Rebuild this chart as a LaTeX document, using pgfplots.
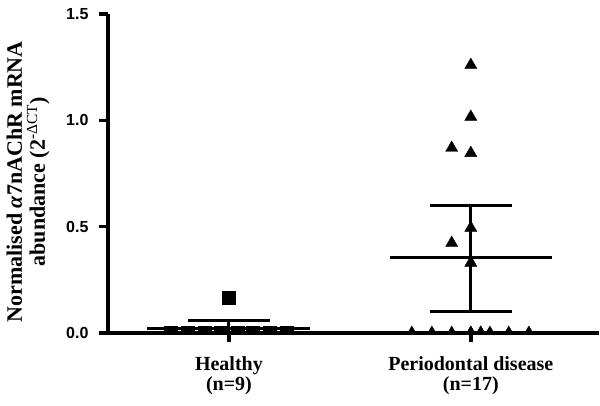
\documentclass[border=0pt]{standalone}
\usepackage{fontspec}
\setmainfont{Liberation Serif}
\newfontfamily\arialfont{Liberation Sans}
\usepackage{pgfplots}
\usepackage{pgfplotstable}
\pgfplotsset{compat=1.18}

\pgfplotstableread{
x y
0.76 0.002
0.83 0.0
0.90 0.002
0.965 0.0
1.035 0.003
1.10 0.0
1.17 0.002
1.24 0.002
1.00 0.165
}\healthy

\pgfplotstableread{
x y
2.00 1.26
2.00 1.016
1.921 0.87
2.00 0.846
2.00 0.494
1.921 0.423
2.00 0.33
1.756 0.0
1.839 0.0
1.921 0.0
2.00 0.0
2.041 0.0
2.079 0.0
2.157 0.0
2.24 0.0
2.00 0.0
2.041 0.0
}\perio

\begin{document}
\begin{tikzpicture}
\begin{axis}[
  name=ax,
  scale only axis,
  width=491pt, height=319pt,
  xmin=0.5, xmax=2.53,
  ymin=0, ymax=1.5,
  axis x line=bottom, axis y line=left,
  axis line style={-, line width=3.5pt},
  axis on top,
  clip marker paths=true,
  tick align=outside,
  major tick length=9pt,
  every tick/.style={black, line width=3.5pt},
  xtick={1,2},
  xticklabels={{Healthy\\(n=9)},{Periodontal disease\\(n=17)}},
  xticklabel style={align=center, font=\bfseries\fontsize{20}{20}\selectfont, yshift=-11pt},
  ytick={0,0.5,1,1.5},
  /pgf/number format/assume math mode=true,
  /pgf/number format/.cd, fixed, fixed zerofill, precision=1, /pgfplots/.cd,
  yticklabel style={font=\arialfont\bfseries\fontsize{16}{16}\selectfont, xshift=-7pt},
  ylabel={Normalised {\itshape α}7nAChR mRNA\\abundance (2\textsuperscript{\mdseries -ΔCT})},
  ylabel style={align=center, font=\bfseries\fontsize{22}{23}\selectfont, at={(axis description cs:-0.163,0.474)}, anchor=center},
]
\addplot[only marks, mark=square*, mark size=6.5pt, black] table[x=x,y=y] {\healthy};
\addplot[only marks, mark=triangle*, mark size=7pt, black] table[x=x,y=y] {\perio};
% Healthy mean and SEM
\addplot[black, line width=3pt] coordinates {(0.663,0.02) (1.337,0.02)};
\addplot[black, line width=3pt] coordinates {(1.0,0.0) (1.0,0.061)};
\addplot[black, line width=3pt] coordinates {(0.83,0.061) (1.17,0.061)};
% Periodontal mean and SEM
\addplot[black, line width=3pt] coordinates {(1.665,0.353) (2.335,0.353)};
\addplot[black, line width=3pt] coordinates {(2.0,0.103) (2.0,0.60)};
\addplot[black, line width=3pt] coordinates {(1.83,0.60) (2.17,0.60)};
\addplot[black, line width=3pt] coordinates {(1.83,0.103) (2.17,0.103)};
\coordinate (bl) at (rel axis cs:0,0);
\coordinate (tr) at (rel axis cs:1,1);
\end{axis}
\pgfresetboundingbox
\path[use as bounding box] ([shift={(-108pt,-72pt)}]bl) rectangle ([shift={(1pt,14pt)}]tr);
\end{tikzpicture}
\end{document}
